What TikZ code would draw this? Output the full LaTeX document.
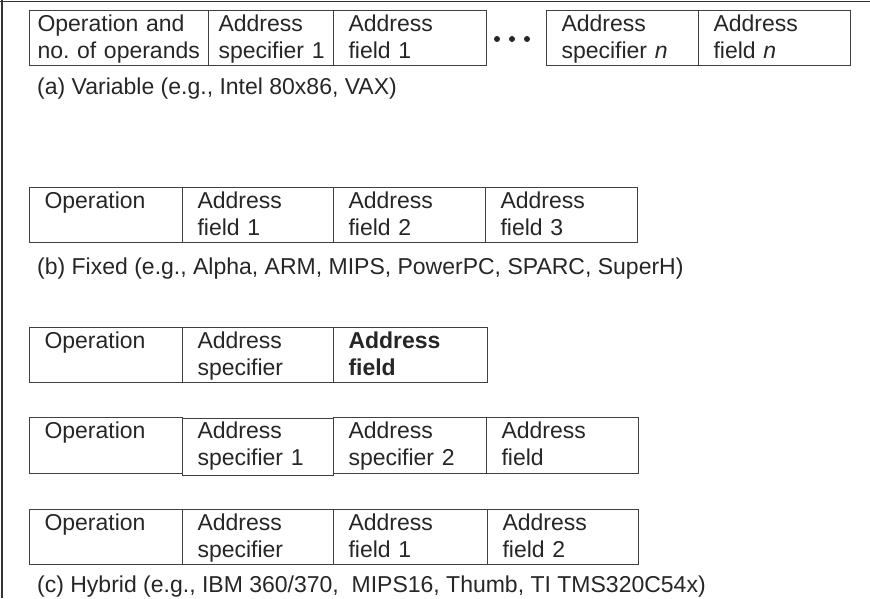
\documentclass[tikz,border=0pt]{standalone}
\usepackage{fontspec}
\setmainfont{Liberation Sans}
\usepackage{tikz}
\usetikzlibrary{positioning}
\frenchspacing

\begin{document}
\begin{tikzpicture}[x=1pt,y=-1pt,
		cell/.style={rectangle,draw=black!75,line width=1pt,anchor=north west,inner xsep=15pt,inner ysep=0pt,
			text height=21pt,text depth=34pt,align=left,text width=#1,text=black!85,
			font=\fontsize{23}{27}\selectfont},
		caption/.style={anchor=base west,inner sep=0pt,text=black!85,font=\fontsize{23}{27}\selectfont}]
		%\draw[gray,step=50] (0,0) grid (870,598);
		\useasboundingbox (0,0) rectangle (870,598);
		\draw[black!80,line width=1.5pt] (0,1.5) -- (870,1.5);
		\draw[black!80,line width=1.5pt] (2,0) -- (2,598);

		% (a) variable
		\node[cell=163pt,inner xsep=8pt] (a1) at (29,10) {Operation~and\\no.~of~operands};
		\node[cell=105pt,inner xsep=10pt] (a2) at (208,10) {Address\\specifier~1};
		\node[cell=123pt] (a3) at (333,10) {Address\\field~1};
		\node[cell=122pt] (a4) at (546,10) {Address\\specifier~\textit{n}};
		\node[cell=122pt] (a5) at (698,10) {Address\\field~\textit{n}};
		\foreach \x in {497,512,527}
			\fill[black!85] (\x,39) circle (3);
		\node[caption] (capa) at (37,94) {(a) Variable (e.g., Intel 80x86, VAX)};

		% (b) fixed
		\node[cell=123pt] (b1) at (29,187) {Operation\\\mbox{}};
		\node[cell=121pt] (b2) at (182,187) {Address\\field~1};
		\node[cell=122pt] (b3) at (333,187) {Address\\field~2};
		\node[cell=122pt] (b4) at (485,187) {Address\\field~3};
		\node[caption] (capb) at (37,274) {(b) Fixed (e.g., Alpha, ARM, MIPS, PowerPC, SPARC, SuperH)};

		% (c) hybrid
		\node[cell=123pt] (c1) at (29,327) {Operation\\\mbox{}};
		\node[cell=121pt] (c2) at (182,327) {Address\\specifier};
		\node[cell=124pt] (c3) at (333,327) {\textbf{Address}\\\textbf{field}};

		\node[cell=123pt,text depth=35pt] (d1) at (29,417) {Operation\\\mbox{}};
		\node[cell=121pt,text height=20pt,text depth=37pt] (d2) at (182,418) {Address\\specifier~1};
		\node[cell=123pt,text depth=35pt] (d3) at (333,417) {Address\\specifier~2};
		\node[cell=122pt,text depth=35pt] (d4) at (486,417) {Address\\field};

		\node[cell=123pt] (e1) at (29,509) {Operation\\\mbox{}};
		\node[cell=121pt] (e2) at (182,509) {Address\\specifier};
		\node[cell=124pt] (e3) at (333,509) {Address\\field~1};
		\node[cell=121pt] (e4) at (487,509) {Address\\field~2};
		\node[caption] (capc) at (37,592) {(c) Hybrid (e.g., IBM 360/370,~ MIPS16, Thumb, TI TMS320C54x)};
	\end{tikzpicture}
\end{document}
